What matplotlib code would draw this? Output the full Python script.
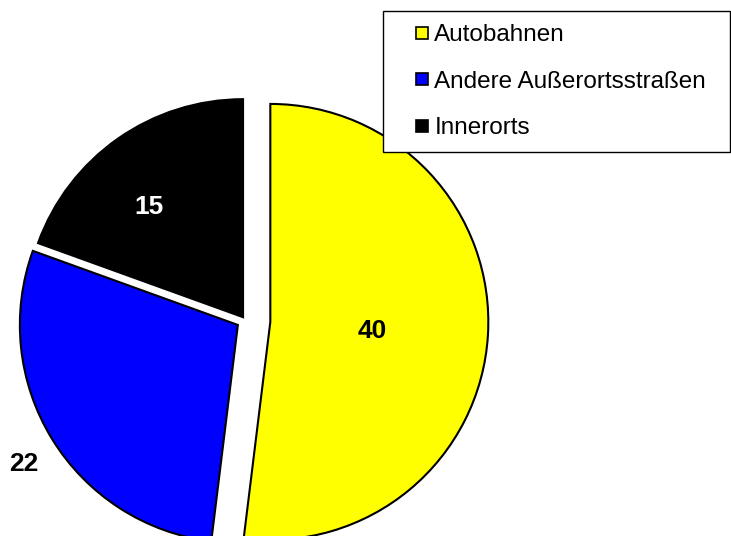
import numpy as np
import matplotlib
matplotlib.use('Agg')
import matplotlib.pyplot as plt
from matplotlib.lines import Line2D

plt.rcParams['font.family'] = ['Liberation Sans', 'DejaVu Sans']

# data
categories = ['Autobahnen', 'Andere Außerortsstraßen', 'Innerorts']
values = [40, 22, 15]
colors = ['#ffff00', '#0000ff', '#000000']
label_colors = ['black', 'black', 'white']

# layout (pixels of the 731x536 picture)
W, H = 731, 536
R = 218.0
cx, cy = 245.3, 320.4
explode = [0.115, 0.04, 0.018]
label_dist = [0.47, 1.17, 0.665]
label_rot = [-1.5, 1.5, 5.5]   # small angular nudge of each value label, degrees

fig = plt.figure(figsize=(W / 100, H / 100), dpi=100)
ax = fig.add_axes([0, 0, 1, 1])

wedges, _ = ax.pie(values, colors=colors, startangle=90, counterclock=False,
                   explode=explode, radius=1, center=(0, 0),
                   wedgeprops=dict(edgecolor='black', linewidth=1.5))

# pie() resets the limits, so set them afterwards
ax.set_xlim(-cx / R, (W - cx) / R)
ax.set_ylim(-(H - cy) / R, cy / R)
ax.set_aspect('equal')
ax.axis('off')

# value labels placed along each wedge's bisector
for w, v, f, rot, c in zip(wedges, values, label_dist, label_rot, label_colors):
    th = np.deg2rad((w.theta1 + w.theta2) / 2 + rot)
    x = w.center[0] + f * w.r * np.cos(th)
    y = w.center[1] + f * w.r * np.sin(th)
    ax.text(x, y, str(v), ha='center', va='center', fontsize=19,
            fontweight='bold', color=c)

# legend
handles = [Line2D([], [], linestyle='none', marker='s', markersize=9,
                  markerfacecolor=col, markeredgecolor='black',
                  markeredgewidth=1.2) for col in colors]
leg = fig.legend(handles, categories, loc='upper left', mode='expand',
                 bbox_to_anchor=(383 / W, 1 - 153 / H, 347 / W, 142 / H),
                 borderaxespad=0, fontsize=17.5, frameon=True, fancybox=False,
                 edgecolor='black', framealpha=1, handlelength=2.14,
                 handletextpad=-0.58, labelspacing=1.0, borderpad=0.55)
leg.get_frame().set_linewidth(1.0)

fig.savefig('out.png', dpi=100)
